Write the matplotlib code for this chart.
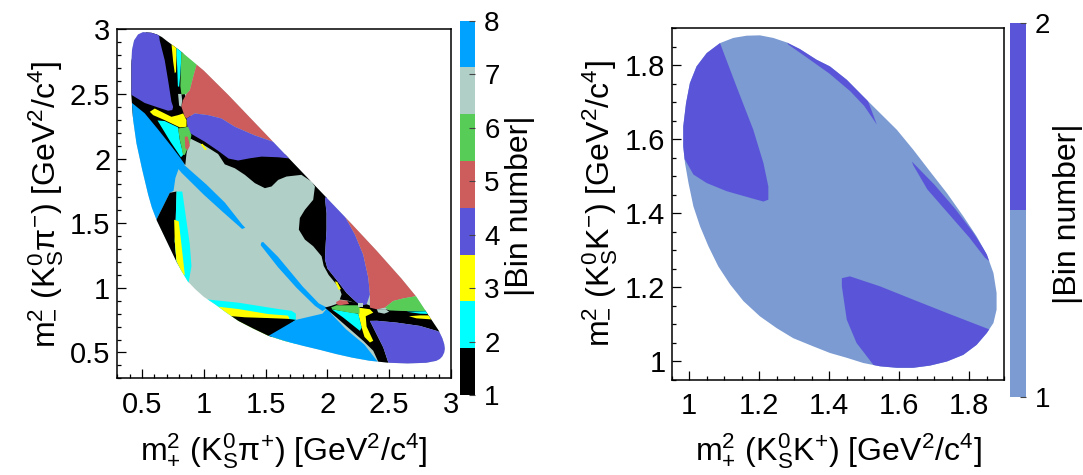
import matplotlib
matplotlib.use("Agg")
import matplotlib as mpl
import matplotlib.pyplot as plt
from matplotlib.patches import Polygon
from matplotlib.colors import ListedColormap, Normalize
from matplotlib.ticker import MultipleLocator

plt.rcParams['font.family'] = ['Liberation Sans', 'DejaVu Sans']
plt.rcParams['mathtext.fontset'] = 'custom'
plt.rcParams['mathtext.rm'] = 'Liberation Sans'
plt.rcParams['mathtext.it'] = 'Liberation Sans:italic'
plt.rcParams['mathtext.bf'] = 'Liberation Sans:bold'

# ---- colours of the bins ----
colors_kpp = ['#000000', '#00ffff', '#ffff00', '#5a55d8', '#cd5c5c', '#57cc57', '#b0cfc7', '#00a2ff']
colors_kkk = ['#7b9bd2', '#5a55d8']

# ---- D -> KS pi pi : Dalitz boundary (m+^2, m-^2) ----
dalitz_kpp = [(0.508, 2.978), (0.576, 2.973), (0.62, 2.96), (0.66, 2.94), (0.70, 2.91), (0.80, 2.84),
              (0.90, 2.76), (1.00, 2.68), (1.20, 2.49), (1.40, 2.29), (1.60, 2.09), (1.80, 1.89),
              (2.00, 1.69), (2.20, 1.49), (2.40, 1.285), (2.60, 1.07), (2.72, 0.93), (2.83, 0.77),
              (2.90, 0.67), (2.93, 0.61), (2.945, 0.565), (2.95, 0.53), (2.945, 0.50), (2.93, 0.47),
              (2.91, 0.45), (2.88, 0.435), (2.80, 0.42), (2.65, 0.415), (2.50, 0.42), (2.34, 0.436),
              (2.20, 0.46), (2.07, 0.488), (1.94, 0.52), (1.80, 0.552), (1.65, 0.59), (1.52, 0.63),
              (1.40, 0.685), (1.28, 0.744), (1.18, 0.81), (1.09, 0.873), (1.00, 0.93), (0.93, 0.99),
              (0.87, 1.05), (0.82, 1.13), (0.78, 1.20), (0.74, 1.28), (0.70, 1.36), (0.66, 1.44),
              (0.62, 1.52), (0.58, 1.62), (0.55, 1.72), (0.50, 1.92), (0.455, 2.118), (0.428, 2.30),
              (0.414, 2.49), (0.414, 2.73), (0.419, 2.84), (0.436, 2.914), (0.468, 2.96)]
base_bin_kpp = 7

# regions of the binning, drawn in this order on top of the base bin
black_topleft = [(0.60, 3.1), (0.84, 3.1), (0.83, 2.55), (0.86, 2.45), (0.90, 2.30), (0.905, 2.19),
                 (0.88, 2.12), (0.86, 2.04), (0.85, 1.95), (0.60, 2.18), (0.30, 2.42), (0.30, 2.56)]
blue_left = [(0.30, 2.47), (0.419, 2.43), (0.522, 2.35), (0.63, 2.225), (0.738, 2.095), (0.806, 2.01),
             (0.846, 1.955), (0.80, 1.93), (0.77, 1.85), (0.755, 1.75), (0.725, 1.735), (0.617, 1.527),
             (0.30, 1.45)]
purple_topleft = [(0.30, 2.55), (0.419, 2.49), (0.522, 2.43), (0.63, 2.395), (0.711, 2.37), (0.745, 2.375),
                  (0.752, 2.40), (0.738, 2.439), (0.711, 2.605), (0.684, 2.76), (0.643, 2.914),
                  (0.62, 3.1), (0.30, 3.1)]
yellow_strip = [(0.738, 2.95), (0.779, 2.95), (0.779, 2.80), (0.775, 2.67), (0.765, 2.66), (0.752, 2.75),
                (0.74, 2.87)]
cyan_strip = [(0.779, 2.95), (0.82, 2.95), (0.819, 2.80), (0.81, 2.65), (0.80, 2.554), (0.79, 2.56),
              (0.785, 2.70), (0.779, 2.80)]
green_strip = [(0.82, 2.95), (0.96, 2.95), (0.94, 2.721), (0.914, 2.631), (0.887, 2.529), (0.86, 2.50),
               (0.819, 2.495), (0.81, 2.56), (0.815, 2.70)]
gray_patch_tl = [(0.792, 2.50), (0.819, 2.50), (0.825, 2.45), (0.819, 2.40), (0.80, 2.41)]
red_top = [(0.94, 2.721), (0.96, 2.95), (2.0, 2.95), (2.0, 2.05), (1.70, 2.10), (1.561, 2.13), (1.41, 2.18),
           (1.251, 2.246), (1.143, 2.31), (1.035, 2.336), (0.927, 2.349), (0.86, 2.31), (0.846, 2.323),
           (0.819, 2.40), (0.83, 2.45), (0.86, 2.50), (0.887, 2.529), (0.914, 2.631)]
black_mid = [(0.86, 2.21), (0.90, 2.22), (1.0, 2.15), (1.14, 2.09), (1.28, 2.04), (1.40, 2.04), (1.55, 2.04),
             (1.70, 2.03), (1.80, 2.0), (2.05, 1.80), (2.05, 1.70), (1.98, 1.694), (1.993, 1.578),
             (1.993, 1.45), (1.985, 1.322), (1.98, 1.22), (2.0, 1.15), (2.05, 1.09), (2.10, 1.03),
             (2.155, 0.96), (2.25, 0.875), (2.17, 0.90), (2.10, 0.91), (2.115, 0.95), (2.10, 0.99),
             (2.07, 1.03), (2.01, 1.10), (1.97, 1.17), (1.953, 1.244), (1.885, 1.322), (1.818, 1.373),
             (1.769, 1.45), (1.777, 1.54), (1.818, 1.604), (1.885, 1.681), (1.899, 1.784), (1.872, 1.822),
             (1.79, 1.874), (1.669, 1.861), (1.602, 1.835), (1.548, 1.784), (1.494, 1.771), (1.413, 1.81),
             (1.332, 1.874), (1.251, 1.925), (1.17, 1.955), (1.116, 2.035), (1.008, 2.10), (0.88, 2.16)]
purple_mid = [(0.86, 2.31), (0.927, 2.349), (1.035, 2.336), (1.143, 2.31), (1.251, 2.246), (1.41, 2.18),
              (1.561, 2.13), (1.70, 2.10), (2.0, 2.0), (1.75, 1.99), (1.70, 2.0), (1.602, 2.01),
              (1.467, 2.015), (1.372, 2.002), (1.278, 1.985), (1.20, 2.0), (1.116, 2.06), (1.008, 2.13),
              (0.90, 2.19), (0.87, 2.22)]
yellow_arrow = [(0.563, 2.362), (0.603, 2.387), (0.738, 2.323), (0.792, 2.336), (0.833, 2.349),
                (0.86, 2.297), (0.86, 2.246), (0.806, 2.241), (0.684, 2.297), (0.59, 2.336)]
cyan_tl = [(0.625, 2.295), (0.684, 2.29), (0.792, 2.241), (0.806, 2.143), (0.835, 2.03), (0.815, 2.01),
           (0.73, 2.13), (0.66, 2.24)]
green_tl = [(0.792, 2.233), (0.873, 2.246), (0.90, 2.182), (0.887, 2.118), (0.846, 2.028), (0.83, 2.03),
            (0.819, 2.092), (0.806, 2.143)]
red_patch_tl = [(0.846, 2.169), (0.87, 2.17), (0.887, 2.10), (0.87, 2.066), (0.85, 2.08)]
yellow_dot_tl = [(0.975, 2.11), (0.99, 2.115), (1.025, 2.07), (1.01, 2.065)]
yellow_dot_mid = [(2.06, 1.05), (2.08, 1.045), (2.11, 0.99), (2.09, 0.985)]
blue_band1 = [(0.79, 1.955), (0.83, 1.96), (1.02, 1.80), (1.17, 1.66), (1.31, 1.49), (1.335, 1.465),
              (1.31, 1.455), (1.15, 1.59), (1.0, 1.72), (0.82, 1.89), (0.785, 1.93)]
blue_band2 = [(1.465, 1.35), (1.48, 1.355), (1.49, 1.345), (1.60, 1.24), (1.80, 1.01), (1.93, 0.88),
              (2.0, 0.845), (1.96, 0.82), (1.90, 0.86), (1.75, 1.00), (1.60, 1.16), (1.46, 1.33)]
black_left = [(0.30, 1.45), (0.617, 1.527), (0.725, 1.735), (0.78, 1.745), (0.773, 1.54), (0.765, 1.36),
              (0.779, 1.206), (0.833, 1.09), (0.80, 0.90), (0.30, 0.90)]
cyan_left = [(0.779, 1.745), (0.826, 1.745), (0.86, 1.514), (0.887, 1.334), (0.90, 1.167), (0.875, 1.03),
             (0.80, 0.95), (0.833, 1.09), (0.779, 1.206), (0.765, 1.36), (0.773, 1.54)]
yellow_left = [(0.76, 1.527), (0.797, 1.514), (0.819, 1.334), (0.846, 1.103), (0.833, 1.09), (0.779, 1.206),
               (0.765, 1.36)]
cyan_bottom = [(1.03, 0.91), (1.28, 0.885), (1.615, 0.834), (1.71, 0.822), (1.745, 0.80), (1.745, 0.50),
               (1.0, 0.50)]
yellow_bottom = [(1.075, 0.858), (1.278, 0.836), (1.521, 0.797), (1.68, 0.785), (1.69, 0.77), (1.68, 0.50),
                 (1.05, 0.50)]
black_bottom = [(1.184, 0.784), (1.332, 0.772), (1.521, 0.766), (1.68, 0.76), (1.745, 0.752), (1.52, 0.60),
                (1.15, 0.60)]
blue_bottom = [(1.50, 0.615), (1.745, 0.752), (1.96, 0.80), (2.0, 0.845), (2.03, 0.80), (2.15, 0.68),
               (2.30, 0.56), (2.43, 0.40), (2.45, 0.30), (1.40, 0.30)]
black_right = [(2.20, 0.89), (2.30, 0.88), (2.40, 0.84), (2.50, 0.83), (2.65, 0.822), (3.05, 0.83),
               (3.05, 0.60), (2.952, 0.641), (2.884, 0.667), (2.749, 0.705), (2.56, 0.731), (2.40, 0.745),
               (2.344, 0.744), (2.398, 0.641), (2.452, 0.539), (2.50, 0.40), (2.425, 0.40), (2.371, 0.513),
               (2.29, 0.59), (2.182, 0.68), (2.074, 0.77), (1.98, 0.847), (2.03, 0.86), (2.15, 0.90)]
purple_right = [(1.98, 1.694), (2.05, 1.80), (2.30, 1.62), (2.142, 1.553), (2.223, 1.412), (2.29, 1.257),
                (2.331, 1.078), (2.344, 0.949), (2.317, 0.872), (2.263, 0.86), (2.25, 0.875), (2.155, 0.96),
                (2.10, 1.03), (2.05, 1.09), (2.0, 1.15), (1.98, 1.22), (1.985, 1.322), (1.993, 1.45),
                (1.993, 1.578)]
red_right = [(2.142, 1.553), (2.30, 1.62), (3.05, 1.0), (2.722, 0.936), (2.614, 0.918), (2.533, 0.898),
             (2.466, 0.847), (2.398, 0.834), (2.344, 0.847), (2.344, 0.949), (2.331, 1.078), (2.29, 1.257),
             (2.223, 1.412)]
green_right = [(2.466, 0.847), (2.533, 0.898), (2.614, 0.918), (2.722, 0.936), (3.05, 1.0), (3.05, 0.82),
               (2.65, 0.82), (2.50, 0.825)]
cyan_right = [(2.64, 0.815), (3.05, 0.825), (3.05, 0.79), (2.75, 0.80)]
yellow_right = [(2.66, 0.78), (2.75, 0.787), (3.05, 0.785), (3.05, 0.745), (2.85, 0.755), (2.72, 0.764)]
purple_bottom = [(2.344, 0.744), (2.40, 0.745), (2.56, 0.731), (2.749, 0.705), (2.884, 0.667), (2.952, 0.641),
                 (3.1, 0.6), (3.1, 0.3), (2.52, 0.3), (2.493, 0.423), (2.452, 0.539), (2.398, 0.641)]
yellow_y = [(2.25, 0.847), (2.344, 0.834), (2.371, 0.808), (2.31, 0.78), (2.317, 0.70), (2.371, 0.59),
            (2.344, 0.577), (2.30, 0.62), (2.277, 0.692), (2.25, 0.795)]
cyan_mid = [(2.034, 0.834), (2.25, 0.80), (2.277, 0.692), (2.263, 0.667), (2.128, 0.77)]
green_mid = [(2.03, 0.848), (2.074, 0.865), (2.26, 0.865), (2.26, 0.80), (2.20, 0.805), (2.10, 0.822),
             (2.04, 0.834)]
red_patch_mid = [(2.07, 0.89), (2.10, 0.905), (2.16, 0.90), (2.175, 0.875), (2.10, 0.865), (2.075, 0.872)]
gray_patch_mid = [(2.25, 0.885), (2.29, 0.885), (2.29, 0.85), (2.25, 0.85)]
gray_patch_right = [(2.40, 0.835), (2.47, 0.835), (2.50, 0.815), (2.46, 0.80), (2.41, 0.81)]

regions_kpp = [
    (1, black_topleft), (8, blue_left), (4, purple_topleft), (3, yellow_strip), (2, cyan_strip),
    (6, green_strip), (7, gray_patch_tl), (5, red_top), (1, black_mid), (4, purple_mid),
    (3, yellow_arrow), (2, cyan_tl), (6, green_tl), (5, red_patch_tl), (3, yellow_dot_tl),
    (3, yellow_dot_mid), (8, blue_band1), (8, blue_band2), (1, black_left), (2, cyan_left),
    (3, yellow_left), (2, cyan_bottom), (3, yellow_bottom), (1, black_bottom), (8, blue_bottom),
    (1, black_right), (4, purple_right), (5, red_right), (6, green_right), (2, cyan_right),
    (3, yellow_right), (4, purple_bottom), (3, yellow_y), (2, cyan_mid), (6, green_mid),
    (5, red_patch_mid), (7, gray_patch_mid), (7, gray_patch_right),
]

# ---- D -> KS K K ----
dalitz_kkk = [(1.088, 1.86), (1.126, 1.874), (1.164, 1.880), (1.202, 1.881), (1.240, 1.874), (1.278, 1.862),
              (1.316, 1.844), (1.364, 1.815), (1.402, 1.797), (1.45, 1.761), (1.497, 1.716), (1.545, 1.671),
              (1.593, 1.626), (1.64, 1.572), (1.688, 1.513), (1.736, 1.455), (1.783, 1.392), (1.821, 1.338),
              (1.85, 1.289), (1.869, 1.239), (1.878, 1.185), (1.878, 1.14), (1.869, 1.104), (1.85, 1.077),
              (1.821, 1.045), (1.783, 1.018), (1.736, 1.0), (1.688, 0.989), (1.64, 0.983), (1.593, 0.983),
              (1.545, 0.987), (1.497, 0.996), (1.45, 1.01), (1.402, 1.023), (1.354, 1.041), (1.297, 1.063),
              (1.250, 1.090), (1.202, 1.122), (1.155, 1.163), (1.117, 1.208), (1.083, 1.257), (1.055, 1.311),
              (1.031, 1.365), (1.012, 1.419), (0.998, 1.482), (0.988, 1.536), (0.983, 1.581), (0.983, 1.635),
              (0.991, 1.698), (1.002, 1.752), (1.021, 1.797), (1.050, 1.833)]
base_bin_kkk = 1
bin2_topleft = [(1.088, 1.86), (1.05, 1.95), (0.9, 1.95), (0.9, 1.55), (0.988, 1.545), (1.012, 1.505),
                (1.05, 1.482), (1.107, 1.46), (1.174, 1.442), (1.212, 1.432), (1.226, 1.437), (1.226, 1.473),
                (1.212, 1.536), (1.183, 1.626), (1.135, 1.743)]
bin2_bottomright = [(1.436, 1.225), (1.459, 1.23), (1.545, 1.203), (1.64, 1.167), (1.736, 1.131),
                    (1.859, 1.086), (1.95, 1.05), (1.95, 0.9), (1.5, 0.9), (1.526, 0.991), (1.478, 1.05),
                    (1.45, 1.113), (1.436, 1.203)]
bin2_sliver_top = [(1.26, 1.90), (1.35, 1.86), (1.45, 1.78), (1.50, 1.73), (1.536, 1.64), (1.50, 1.69),
                   (1.46, 1.73), (1.40, 1.778), (1.33, 1.825), (1.283, 1.856)]
bin2_sliver_right = [(1.636, 1.54), (1.70, 1.478), (1.76, 1.412), (1.81, 1.35), (1.85, 1.292), (1.90, 1.24),
                     (1.845, 1.28), (1.80, 1.335), (1.74, 1.40), (1.68, 1.465), (1.64, 1.53)]
regions_kkk = [(2, bin2_topleft), (2, bin2_bottomright), (2, bin2_sliver_top), (2, bin2_sliver_right)]


def draw_bins(ax, boundary, base_bin, regions, colors):
    outline = Polygon(boundary, closed=True, facecolor=colors[base_bin - 1], edgecolor='none', zorder=1)
    ax.add_patch(outline)
    for k, (b, verts) in enumerate(regions):
        p = Polygon(verts, closed=True, facecolor=colors[b - 1], edgecolor='none', zorder=2 + k * 0.01)
        ax.add_patch(p)
        p.set_clip_path(outline)


def style_axes(ax, xlim, ylim, major, minor, xpad, ypad):
    ax.set_xlim(*xlim)
    ax.set_ylim(*ylim)
    ax.xaxis.set_major_locator(MultipleLocator(major))
    ax.xaxis.set_minor_locator(MultipleLocator(minor))
    ax.yaxis.set_major_locator(MultipleLocator(major))
    ax.yaxis.set_minor_locator(MultipleLocator(minor))
    ax.tick_params(which='both', direction='in', top=False, right=False, width=0.9, labelsize=21)
    ax.tick_params(which='major', length=6.5)
    ax.tick_params(which='minor', length=3.2)
    ax.tick_params(axis='x', pad=xpad)
    ax.tick_params(axis='y', pad=ypad)
    fmt = mpl.ticker.FuncFormatter(lambda v, p: '%g' % round(v, 2))
    ax.xaxis.set_major_formatter(fmt)
    ax.yaxis.set_major_formatter(fmt)
    for s in ax.spines.values():
        s.set_linewidth(1.1)


def add_palette(fig, rect, colors, vmin, vmax, ticks, pad):
    cax = fig.add_axes(rect)
    cb = mpl.colorbar.ColorbarBase(cax, cmap=ListedColormap(colors), norm=Normalize(vmin, vmax),
                                   ticks=ticks, orientation='vertical')
    cb.outline.set_visible(False)
    cax.tick_params(direction='in', length=4, width=0.8, color='#444444', labelsize=20, pad=pad)
    return cb


W, H = 1083, 475
fig = plt.figure(figsize=(W / 100, H / 100), dpi=100)

# left panel
ax1 = fig.add_axes([117.3 / W, 1 - 378.3 / H, 333.7 / W, 349.0 / H])
draw_bins(ax1, dalitz_kpp, base_bin_kpp, regions_kpp, colors_kpp)
style_axes(ax1, (0.3, 3.0), (0.3, 3.0), 0.5, 0.1, 9.5, 5)
add_palette(fig, [460 / W, 1 - 395 / H, 14.5 / W, 374.4 / H], colors_kpp, 1, 8, list(range(1, 9)), 7)
fig.text(284 / W, 1 - 451 / H, r'm$^{2}_{+}$ (K$^{0}_{\mathrm{S}}$π$^{+}$) [GeV$^{2}$/c$^{4}$]',
         fontsize=23, ha='center', va='center')
fig.text(46 / W, 1 - 204 / H, r'm$^{2}_{-}$ (K$^{0}_{\mathrm{S}}$π$^{-}$) [GeV$^{2}$/c$^{4}$]',
         fontsize=23, ha='center', va='center', rotation=90)
fig.text(520 / W, 1 - 206 / H, '|Bin number|', fontsize=23, ha='center', va='center', rotation=90)

# right panel
ax2 = fig.add_axes([671.7 / W, 1 - 380 / H, 332.6 / W, 351.7 / H])
draw_bins(ax2, dalitz_kkk, base_bin_kkk, regions_kkk, colors_kkk)
style_axes(ax2, (0.95, 1.9), (0.95, 1.9), 0.2, 0.05, 9, 4.5)
add_palette(fig, [1010.2 / W, 1 - 397.3 / H, 16.2 / W, 374.3 / H], colors_kkk, 1, 2, [1, 2], 6)
fig.text(838 / W, 1 - 451 / H, r'm$^{2}_{+}$ (K$^{0}_{\mathrm{S}}$K$^{+}$) [GeV$^{2}$/c$^{4}$]',
         fontsize=23, ha='center', va='center')
fig.text(600 / W, 1 - 204 / H, r'm$^{2}_{-}$ (K$^{0}_{\mathrm{S}}$K$^{-}$) [GeV$^{2}$/c$^{4}$]',
         fontsize=23, ha='center', va='center', rotation=90)
fig.text(1068 / W, 1 - 214 / H, '|Bin number|', fontsize=23, ha='center', va='center', rotation=90)

fig.savefig('out.png', dpi=100)
